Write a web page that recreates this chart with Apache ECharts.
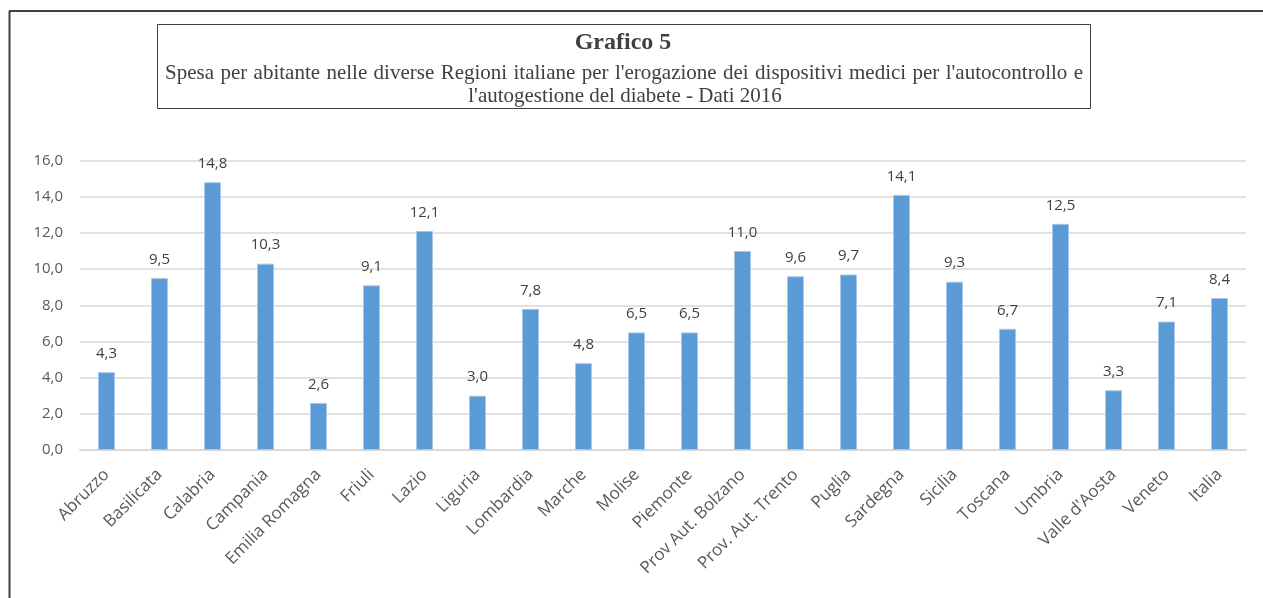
<!DOCTYPE html>
<html>
<head>
<meta charset="utf-8">
<script src="https://cdn.jsdelivr.net/npm/echarts@6/dist/echarts.min.js"></script>
<style>html,body{margin:0;padding:0;background:#fff;}#c{width:1263px;height:598px;}</style>
</head>
<body>
<div id="c"></div>
<script>
const categories = ["Abruzzo","Basilicata","Calabria","Campania","Emilia Romagna","Friuli","Lazio","Liguria","Lombardia","Marche","Molise","Piemonte","Prov Aut. Bolzano","Prov. Aut. Trento","Puglia","Sardegna","Sicilia","Toscana","Umbria","Valle d'Aosta","Veneto","Italia"];
const spesa = [4.3,9.5,14.8,10.3,2.6,9.1,12.1,3.0,7.8,4.8,6.5,6.5,11.0,9.6,9.7,14.1,9.3,6.7,12.5,3.3,7.1,8.4];
const titleText = "Grafico 5";
const subtitleLines = ["Spesa per abitante nelle diverse Regioni italiane per l'erogazione dei dispositivi medici per l'autocontrollo e","l'autogestione del diabete - Dati 2016"];

const fmt = v => Number(v).toFixed(1).replace('.', ',');
const sansFont = "'Open Sans', sans-serif";
const serifFont = "'Liberation Serif', 'Times New Roman', serif";
const subFont = "21px " + serifFont;

// justified first subtitle line (as in the source document)
function justifiedWords(text, font, x0, x1, y) {
  const ctx = document.createElement('canvas').getContext('2d');
  ctx.font = font;
  const words = text.split(' ');
  const widths = words.map(w => ctx.measureText(w).width);
  const total = widths.reduce((a, b) => a + b, 0);
  const gap = (x1 - x0 - total) / (words.length - 1);
  const out = [];
  let x = x0;
  words.forEach((w, i) => {
    out.push({type:'text', x:x, y:y, style:{text:w, font:font, fill:'#404040', align:'left', verticalAlign:'middle'}});
    x += widths[i] + gap;
  });
  return out;
}

const chart = echarts.init(document.getElementById('c'), null, {renderer:'canvas'});
chart.setOption({
  animation: false,
  backgroundColor: '#ffffff',
  graphic: [
    {type:'line', shape:{x1:9.5,y1:11,x2:9.5,y2:598}, style:{stroke:'#3a4050', lineWidth:2}},
    {type:'line', shape:{x1:9,y1:11,x2:1263,y2:11}, style:{stroke:'#3a4050', lineWidth:2}},
    {type:'rect', shape:{x:157.5,y:24.5,width:933,height:84}, style:{fill:'#ffffff', stroke:'#404040', lineWidth:1}},
    {type:'text', x:623, y:43, style:{text:titleText, font:"bold 24px " + serifFont, fill:'#404040', align:'center', verticalAlign:'middle'}},
    ...justifiedWords(subtitleLines[0], subFont, 165, 1083, 73),
    {type:'text', x:625, y:96, style:{text:subtitleLines[1], font:subFont, fill:'#404040', align:'center', verticalAlign:'middle'}}
  ],
  grid: {left:80, right:17, top:160.5, bottom:148, containLabel:false},
  xAxis: {
    type:'category',
    data: categories,
    axisLine:{lineStyle:{color:'#d9d9d9', width:2}},
    axisTick:{show:false},
    axisLabel:{rotate:45, margin:22, interval:0, color:'#595959', fontFamily:sansFont, fontSize:17}
  },
  yAxis: {
    type:'value', min:0, max:16, interval:2,
    axisLine:{show:false}, axisTick:{show:false},
    splitLine:{lineStyle:{color:'#d9d9d9', width:1.5}},
    axisLabel:{formatter:fmt, color:'#595959', fontFamily:sansFont, fontSize:15, margin:17}
  },
  series: [{
    type:'bar',
    data: spesa,
    barWidth:17,
    itemStyle:{color:'#5b9bd5', borderColor:'#a7c8ea', borderWidth:1},
    label:{show:true, position:'top', distance:11, formatter:p=>fmt(p.value), color:'#404040', fontFamily:sansFont, fontSize:15}
  }]
});
</script>
</body>
</html>
